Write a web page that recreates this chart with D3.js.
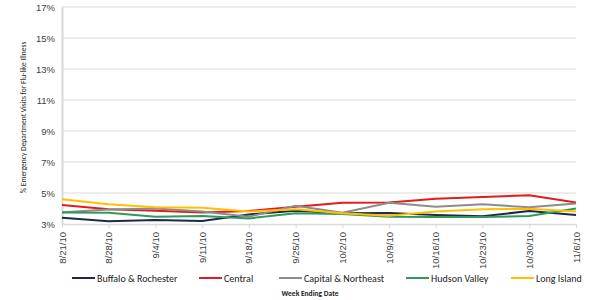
<!DOCTYPE html>
<html>
<head>
<meta charset="utf-8">
<script src="https://cdn.jsdelivr.net/npm/d3@7"></script>
<style>
  body { margin: 0; background: #fff; }
  svg { display: block; font-family: Calibri, Carlito, "Liberation Sans", Arial, sans-serif; }
</style>
</head>
<body>
<div id="chart"></div>
<script>
// categories (week ending date)
const weeks = ['8/21/10', '8/28/10', '9/4/10', '9/11/10', '9/18/10', '9/25/10',
               '10/2/10', '10/9/10', '10/16/10', '10/23/10', '10/30/10', '11/6/10'];

// % ED visits for ILI, per region
const buffalo  = [3.41, 3.18, 3.26, 3.19, 3.62, 3.85, 3.69, 3.71, 3.58, 3.50, 3.84, 3.58];
const central  = [4.23, 3.95, 3.86, 3.75, 3.84, 4.12, 4.37, 4.38, 4.63, 4.74, 4.85, 4.38];
const capital  = [3.76, 3.93, 4.00, 3.80, 3.47, 4.17, 3.73, 4.37, 4.12, 4.27, 4.08, 4.33];
const hudson   = [3.74, 3.73, 3.47, 3.52, 3.36, 3.69, 3.65, 3.47, 3.45, 3.45, 3.52, 4.00];
const longIsl  = [4.59, 4.27, 4.08, 4.05, 3.80, 3.95, 3.69, 3.54, 3.80, 3.95, 3.99, 3.80];

const seriesNames = ['Buffalo & Rochester', 'Central', 'Capital & Northeast', 'Hudson Valley', 'Long Island'];
const seriesColors = ['#1b2a47', '#e41a1c', '#8c8c8c', '#2e9a5c', '#ffc000'];
const seriesValues = [buffalo, central, capital, hudson, longIsl];

const yTicks = [3, 5, 7, 9, 11, 13, 15, 17];

const W = 600, H = 300;
const margin = { top: 7, right: 24, bottom: 76, left: 62 };

const svg = d3.select('#chart').append('svg')
  .attr('width', W).attr('height', H);

const x = d3.scalePoint().domain(weeks).range([margin.left, W - margin.right]);
const y = d3.scaleLinear().domain([3, 17]).range([H - margin.bottom, margin.top]);

// gridlines
svg.append('g')
  .selectAll('line')
  .data(yTicks.slice(1))
  .join('line')
  .attr('x1', margin.left).attr('x2', W - margin.right)
  .attr('y1', d => y(d)).attr('y2', d => y(d))
  .attr('stroke', '#d9d9d9').attr('stroke-width', 1);

// y axis
const yAxis = svg.append('g')
  .attr('transform', `translate(${margin.left},0)`)
  .call(d3.axisLeft(y).tickValues(yTicks).tickFormat(d => d + '%').tickSize(0).tickPadding(7));
yAxis.select('.domain').attr('stroke', '#d9d9d9').attr('stroke-width', 2);
yAxis.selectAll('text').attr('font-size', 9.5).attr('fill', '#404040');

// x axis
const xAxis = svg.append('g')
  .attr('transform', `translate(0,${y(3)})`)
  .call(d3.axisBottom(x).tickSize(4).tickSizeOuter(0));
xAxis.select('.domain').attr('stroke', '#d9d9d9').attr('stroke-width', 1.5);
xAxis.selectAll('.tick line').attr('stroke', '#d9d9d9');
xAxis.selectAll('text')
  .attr('font-size', 9.5).attr('fill', '#404040')
  .attr('transform', 'rotate(-90)')
  .attr('text-anchor', 'end')
  .attr('x', -8).attr('y', 0).attr('dy', '0.32em');

// lines
const line = d3.line().x((d, i) => x(weeks[i])).y(d => y(d));
svg.append('g')
  .selectAll('path')
  .data(seriesValues)
  .join('path')
  .attr('d', line)
  .attr('fill', 'none')
  .attr('stroke', (d, i) => seriesColors[i])
  .attr('stroke-width', 2);

// axis titles
svg.append('text')
  .attr('transform', `translate(26,${(y(3) + y(17)) / 2 + 2}) rotate(-90)`)
  .attr('text-anchor', 'middle')
  .attr('font-size', 7.5).attr('fill', '#222')
  .text('% Emergency  Department Visits for Flu-like Illness');

svg.append('text')
  .attr('x', 310).attr('y', 296)
  .attr('text-anchor', 'middle')
  .attr('font-size', 7.5).attr('font-weight', 'bold').attr('fill', '#222')
  .text('Week Ending Date');

// legend
const legendX = [72, 199, 279, 406, 511];
const legend = svg.append('g')
  .selectAll('g')
  .data(seriesNames)
  .join('g')
  .attr('transform', (d, i) => `translate(${legendX[i]},278)`);
legend.append('line')
  .attr('x1', 0).attr('x2', 23)
  .attr('stroke', (d, i) => seriesColors[i]).attr('stroke-width', 2);
legend.append('text')
  .attr('x', 25).attr('dy', '0.35em')
  .attr('font-size', 10).attr('fill', '#222')
  .text(d => d);
</script>
</body>
</html>
